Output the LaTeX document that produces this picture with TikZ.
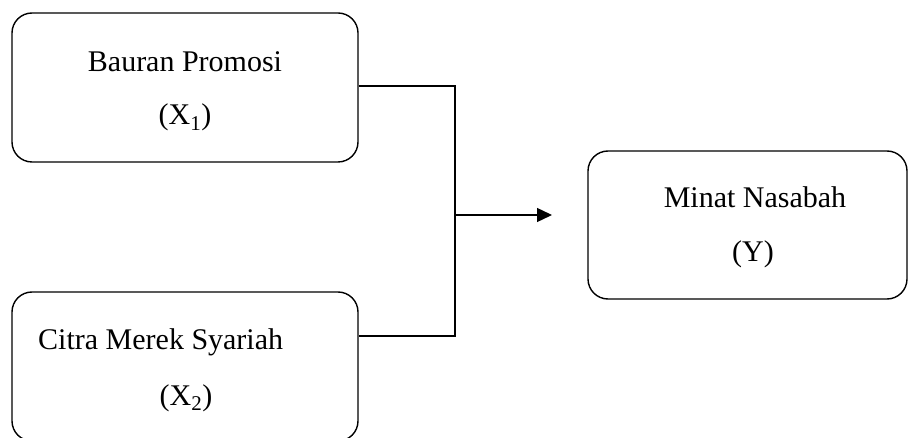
\documentclass[tikz,border=0pt]{standalone}
\usepackage{fontspec}
\setmainfont{Liberation Serif}
\usetikzlibrary{arrows.meta}
\usetikzlibrary{positioning}
\tikzstyle{var} = [draw=black, line width=1.4pt, rounded corners=20pt, minimum width=346pt, minimum height=149pt, inner sep=0pt]
\tikzstyle{txt} = [anchor=base, inner sep=0pt, font=\fontsize{30}{36}\selectfont]
\tikzstyle{arrow} = [-{Triangle[length=15pt,width=14pt]}, line width=1.4pt]

\begin{document}
\begin{tikzpicture}[x=1pt, y=-1pt]

  \useasboundingbox (0,0) rectangle (908,438);

  % variabel bebas
  \node[var] (x1) at (185,87.5) {};
  \node[var] (x2) at (185,366.5) {};
  % variabel terikat
  \node[var, minimum width=319pt, minimum height=148pt] (y) at (747.5,225) {};

  \node[txt] (lx1) at (185,72) {Bauran Promosi};
  \node[txt] (ix1) at (185,125) {(X\textsubscript{1})};
  \node[txt, anchor=base west] (lx2) at (38,350) {Citra Merek Syariah};
  \node[txt] (ix2) at (186,405) {(X\textsubscript{2})};
  \node[txt] (ly) at (755,208) {Minat Nasabah};
  \node[txt] (iy) at (753,262) {(Y)};

  \coordinate (j1) at (455,86);
  \coordinate (j2) at (455,336);
  \coordinate (mid) at (455,215);
  \coordinate (tip) at (552,215);

  \draw[line width=1.4pt] (x1.east |- j1) -- (j1) -- (j2) -- (x2.east |- j2);
  \draw[arrow] (mid) -- (tip);

\end{tikzpicture}
\end{document}
